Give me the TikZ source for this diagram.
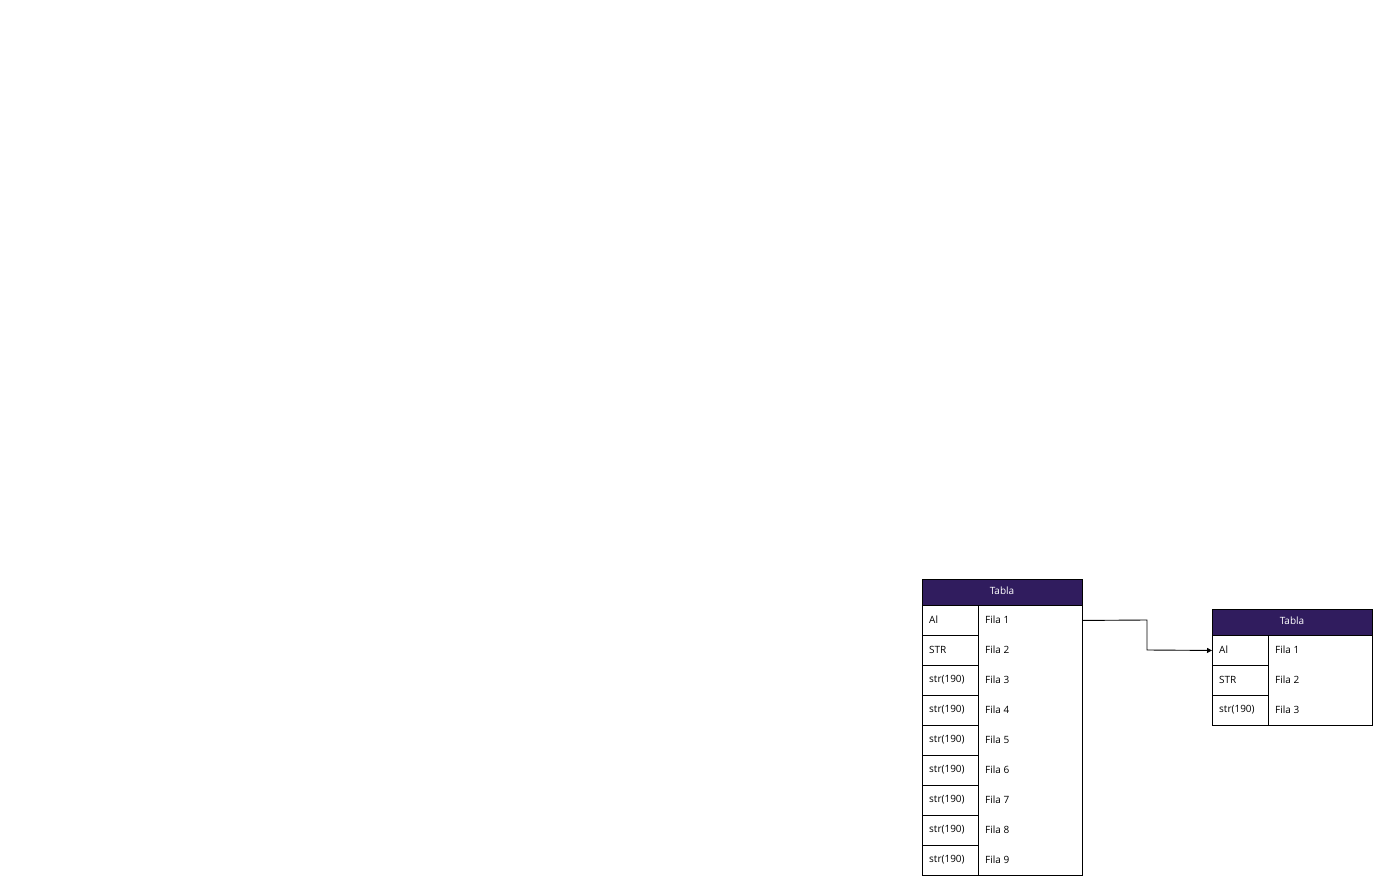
\documentclass[tikz,border=0pt]{standalone}
\usepackage{fontspec}
\setmainfont{Open Sans}
\usetikzlibrary{arrows.meta}
\definecolor{hdr}{HTML}{301C5E}
\tikzset{
  cell/.style={draw=black, line width=0.9pt, minimum height=30pt, inner sep=0pt, anchor=north west},
  keycell/.style={cell, minimum width=56pt},
  hdrcell/.style={draw=black, line width=0.9pt, fill=hdr, minimum width=160pt, minimum height=26pt, inner sep=0pt, anchor=north west},
  hdrtxt/.style={inner sep=0pt, text=white, font=\fontsize{10}{12}\selectfont},
  txt/.style={anchor=west, inner sep=0pt, font=\fontsize{10}{12}\selectfont},
  link/.style={draw=black, line width=0.9pt, -{Triangle[length=5pt,width=5pt]}},
}
\begin{document}
\begin{tikzpicture}[x=1pt,y=-1pt]
\useasboundingbox (0,0) rectangle (1374,877);
\fill[white] (0,0) rectangle (1374,877);
% Table 1
\node[hdrcell] (t1h) at (922,579) {};
\node[hdrtxt] (t1ht) at (1002,591) {Tabla};
\node[draw=black, line width=0.9pt, minimum width=160pt, minimum height=270pt, inner sep=0pt, anchor=north west] (t1b) at (922,605) {};
\foreach \i/\k in {1/Al,2/STR,3/str(190),4/str(190),5/str(190),6/str(190),7/str(190),8/str(190),9/str(190)}{
  \node[keycell] (t1k\i) at (922,{605+30*(\i-1)}) {};
  \node[txt] (t1kt\i) at (929,{620+30*(\i-1)}) {\k};
  \node[txt] (t1v\i) at (985,{620+30*(\i-1)}) {Fila \i};
}
% Table 2
\node[hdrcell] (t2h) at (1212,609) {};
\node[hdrtxt] (t2ht) at (1292,621) {Tabla};
\node[draw=black, line width=0.9pt, minimum width=160pt, minimum height=90pt, inner sep=0pt, anchor=north west] (t2b) at (1212,635) {};
\foreach \i/\k in {1/Al,2/STR,3/str(190)}{
  \node[keycell] (t2k\i) at (1212,{635+30*(\i-1)}) {};
  \node[txt] (t2kt\i) at (1219,{650+30*(\i-1)}) {\k};
  \node[txt] (t2v\i) at (1275,{650+30*(\i-1)}) {Fila \i};
}
% connector
\coordinate (s) at (t1b.east |- t1k1.west);
\draw[link] (s) -- (1147,620) -- (1147,650) -- (t2k1.west);
\end{tikzpicture}
\end{document}
